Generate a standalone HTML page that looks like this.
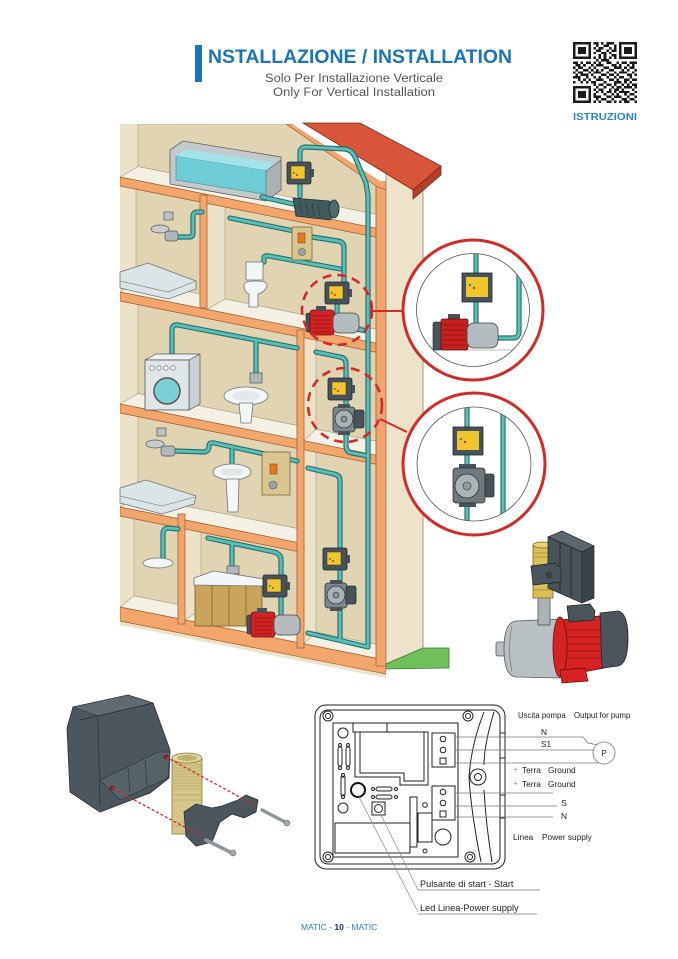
<!DOCTYPE html>
<html><head><meta charset="utf-8">
<style>
html,body{margin:0;padding:0;background:#fff;}
svg{display:block;}
.po{fill:none;stroke:#2a6b68;stroke-width:5.2;stroke-linejoin:round;stroke-linecap:round;}
.pi{fill:none;stroke:#55bfb8;stroke-width:3;stroke-linejoin:round;stroke-linecap:round;}
.bk{fill:#e1d4b3;stroke:#a89c84;stroke-width:.6;}
.fl{fill:#f4f0e4;stroke:#a89c84;stroke-width:.6;}
.sl{fill:#f2a66c;stroke:#9c5b2e;stroke-width:.7;}
.wt{fill:#f3f6f6;stroke:#6f7577;stroke-width:.8;}
.wl{fill:none;stroke:#222;stroke-width:1;}
.lt{font-family:"Liberation Sans",Arial,sans-serif;font-size:8.3px;fill:#222;}
</style></head>
<body>
<svg width="678" height="959" viewBox="0 0 678 959" xmlns="http://www.w3.org/2000/svg">
<defs>
  <clipPath id="house"><polygon points="120,124 292,124 380,181 386,181 386,678 120,625"/></clipPath>
  <clipPath id="c1"><circle cx="473" cy="310" r="56.5"/></clipPath>
  <clipPath id="c2"><circle cx="474" cy="464" r="57"/></clipPath>
  <g id="cb">
    <rect x="0" y="0" width="24" height="22" rx="2" fill="#48525a" stroke="#22282c" stroke-width=".8"/>
    <rect x="4" y="4" width="14" height="13" fill="#f1c52e" stroke="#333" stroke-width=".5"/>
    <circle cx="7" cy="11" r="1" fill="#3a8a3a"/><circle cx="10" cy="13" r="1" fill="#c0392b"/>
    <rect x="24" y="7" width="3" height="8" fill="#48525a"/>
  </g>
  <g id="circ">
    <rect x="0" y="3" width="22" height="25" rx="3" fill="#7e888c" stroke="#2a3035" stroke-width=".8"/>
    <rect x="5" y="0" width="12" height="4" fill="#48525a"/>
    <rect x="5" y="27" width="12" height="4" fill="#48525a"/>
    <circle cx="11" cy="15" r="9" fill="#a9b2b5" stroke="#2a3035" stroke-width=".8"/>
    <circle cx="11" cy="15" r="3" fill="#8b9497" stroke="#2a3035" stroke-width=".6"/>
    <rect x="21" y="6" width="10" height="18" rx="2" fill="#48525a" stroke="#2a3035" stroke-width=".8"/>
  </g>
  <g id="rp">
    <rect x="-4" y="5" width="6" height="19" rx="2" fill="#48525a" stroke="#222" stroke-width=".6"/>
    <rect x="0" y="2" width="24" height="25" rx="3" fill="#d42222" stroke="#5a1010" stroke-width=".8"/>
    <path d="M3,8h18M3,12h18M3,16h18M3,20h18M3,24h18" stroke="#8a1515" stroke-width=".8"/>
    <rect x="6" y="-2" width="10" height="5" fill="#48525a"/>
    <rect x="23" y="5" width="26" height="20" rx="6" fill="#b4bcbf" stroke="#444" stroke-width=".8"/>
  </g>
  <g id="pipes">
    <path d="M262,197 L298,205"/>
    <path d="M300,196 L300,153 Q300,147 306,147 L345,149 Q352,150 355,157 L366,183 L368,196 L368,646"/>
    <path d="M176,237 L190,237 Q193,237 193,232 L193,216 Q193,212 198,212 L202,212"/>
    <path d="M230,218 L294,231"/>
    <path d="M312,237 L338,241 Q344,242 344,248 L344,284"/>
    <path d="M264,262 L264,258 Q264,255 269,256 L340,269"/>
    <path d="M337,304 L337,314"/>
    <path d="M356,329 L368,331"/>
    <path d="M172,356 L172,330 Q172,324 178,325 L297,348"/>
    <path d="M256,342 L256,374"/>
    <path d="M316,352 L340,357 Q346,358 346,364 L346,446 Q346,452 352,453 L368,456"/>
    <path d="M176,451 L203,452 Q209,452 209,446 Q209,442 214,443 L297,461"/>
    <path d="M232,450 L232,466"/>
    <path d="M163,559 L163,534 Q163,528 169,528 L178,529"/>
    <path d="M208,538 L274,552 Q281,554 281,560 L281,633"/>
    <path d="M232,543 L232,568"/>
    <path d="M308,468 L334,474 Q340,475 340,481 L340,640"/>
    <path d="M308,633 L368,647"/>
  </g>
</defs>

<!-- ===== HEADER ===== -->
<rect x="195" y="45" width="7" height="37" fill="#1e74b8"/>
<text x="208" y="63" font-family="Liberation Sans, Arial, sans-serif" font-weight="bold" font-size="19" fill="#1e74b8" textLength="304" lengthAdjust="spacingAndGlyphs">NSTALLAZIONE / INSTALLATION</text>
<text x="354" y="82" text-anchor="middle" font-family="Liberation Sans, Arial, sans-serif" font-size="11.5" fill="#555" textLength="178" lengthAdjust="spacingAndGlyphs">Solo Per Installazione Verticale</text>
<text x="354" y="96" text-anchor="middle" font-family="Liberation Sans, Arial, sans-serif" font-size="11.5" fill="#555" textLength="162" lengthAdjust="spacingAndGlyphs">Only For Vertical Installation</text>

<!-- QR -->
<g transform="translate(573,42) scale(2.56,2.44)" fill="#1a1a1a" shape-rendering="crispEdges">
  <path fill-rule="evenodd" d="M0,0h7v7h-7z M1,1v5h5v-5z M2,2h3v3h-3z M18,0h7v7h-7z M19,1v5h5v-5z M20,2h3v3h-3z M0,18h7v7h-7z M1,19v5h5v-5z M2,20h3v3h-3z"/>
  <path d="M8,0h2v1h-2z M11,0h1v1h-1z M13,0h3v1h-3z M9,1h1v1h-1z M12,1h2v1h-2z M16,1h1v1h-1z M8,2h1v1h-1z M10,2h2v1h-2z M14,2h1v1h-1z M16,2h1v1h-1z M9,3h2v1h-2z M13,3h1v1h-1z M15,3h2v1h-2z M8,4h1v1h-1z M11,4h2v1h-2z M14,4h1v1h-1z M10,5h1v1h-1z M12,5h1v1h-1z M15,5h2v1h-2z M8,6h1v1h-1z M10,6h1v1h-1z M12,6h1v1h-1z M14,6h1v1h-1z M16,6h1v1h-1z M9,7h1v1h-1z M11,7h3v1h-3z M0,8h2v1h-2z M3,8h1v1h-1z M5,8h2v1h-2z M8,8h1v1h-1z M10,8h1v1h-1z M13,8h2v1h-2z M17,8h1v1h-1z M19,8h2v1h-2z M22,8h3v1h-3z M1,9h2v1h-2z M4,9h1v1h-1z M7,9h1v1h-1z M9,9h3v1h-3z M15,9h2v1h-2z M18,9h1v1h-1z M21,9h1v1h-1z M23,9h1v1h-1z M0,10h1v1h-1z M2,10h2v1h-2z M6,10h1v1h-1z M8,10h1v1h-1z M12,10h2v1h-2z M16,10h3v1h-3z M20,10h1v1h-1z M22,10h2v1h-2z M1,11h1v1h-1z M4,11h2v1h-2z M7,11h1v1h-1z M9,11h1v1h-1z M11,11h1v1h-1z M14,11h2v1h-2z M19,11h1v1h-1z M21,11h1v1h-1z M24,11h1v1h-1z M0,12h1v1h-1z M2,12h2v1h-2z M6,12h1v1h-1z M8,12h3v1h-3z M13,12h1v1h-1z M16,12h1v1h-1z M18,12h3v1h-3z M23,12h1v1h-1z M1,13h1v1h-1z M3,13h3v1h-3z M7,13h1v1h-1z M11,13h2v1h-2z M14,13h2v1h-2z M17,13h1v1h-1z M21,13h2v1h-2z M24,13h1v1h-1z M0,14h3v1h-3z M5,14h1v1h-1z M8,14h1v1h-1z M10,14h1v1h-1z M13,14h1v1h-1z M16,14h1v1h-1z M18,14h2v1h-2z M22,14h1v1h-1z M2,15h1v1h-1z M4,15h1v1h-1z M6,15h1v1h-1z M9,15h3v1h-3z M14,15h2v1h-2z M17,15h1v1h-1z M20,15h2v1h-2z M23,15h2v1h-2z M0,16h1v1h-1z M3,16h1v1h-1z M5,16h1v1h-1z M7,16h2v1h-2z M12,16h1v1h-1z M16,16h3v1h-3z M20,16h1v1h-1z M22,16h1v1h-1z M8,17h1v1h-1z M10,17h2v1h-2z M13,17h2v1h-2z M16,17h1v1h-1z M19,17h1v1h-1z M21,17h1v1h-1z M23,17h2v1h-2z M9,18h1v1h-1z M12,18h1v1h-1z M15,18h1v1h-1z M17,18h2v1h-2z M20,18h3v1h-3z M24,18h1v1h-1z M8,19h1v1h-1z M10,19h2v1h-2z M14,19h1v1h-1z M16,19h2v1h-2z M19,19h1v1h-1z M23,19h1v1h-1z M9,20h1v1h-1z M11,20h1v1h-1z M13,20h2v1h-2z M16,20h1v1h-1z M18,20h4v1h-4z M24,20h1v1h-1z M8,21h1v1h-1z M12,21h1v1h-1z M15,21h1v1h-1z M17,21h1v1h-1z M20,21h1v1h-1z M22,21h2v1h-2z M8,22h3v1h-3z M13,22h2v1h-2z M16,22h3v1h-3z M21,22h1v1h-1z M24,22h1v1h-1z M9,23h1v1h-1z M11,23h2v1h-2z M15,23h1v1h-1z M19,23h2v1h-2z M22,23h2v1h-2z M8,24h1v1h-1z M10,24h1v1h-1z M13,24h2v1h-2z M16,24h1v1h-1z M18,24h1v1h-1z M20,24h2v1h-2z M24,24h1v1h-1z"/>
</g>
<text x="605" y="120" text-anchor="middle" font-family="Liberation Sans, Arial, sans-serif" font-weight="bold" font-size="10" fill="#2a86c6" textLength="64" lengthAdjust="spacingAndGlyphs">ISTRUZIONI</text>

<!-- ===== HOUSE ===== -->
<polygon points="386,170 423,170 423,648 386,664" fill="#ece3ca" stroke="#8a8478" stroke-width=".8"/>
<polygon points="386,664 423,648 449,648 449,668 386,669" fill="#6fbf5b" stroke="#3f7a35" stroke-width=".8"/>

<g clip-path="url(#house)">
  <rect x="120" y="120" width="270" height="560" fill="#ece2c7"/>
  <polygon class="bk" points="138,124 376,124 376,214.2 138,166.6"/>
  <polygon class="fl" points="120,177 138,166.6 376,214.2 376,228.2"/>
  <polygon class="bk" points="136,189.2 200,202 200,294 136,281.2"/>
  <polygon class="fl" points="120,292 136,281.2 200,294 200,308"/>
  <polygon class="bk" points="225,207 376,237.2 376,329.2 225,299"/>
  <polygon class="fl" points="207,309.4 225,299 376,329.2 376,343.2"/>
  <polygon class="bk" points="138,304.6 297,336.4 297,425.4 138,393.6"/>
  <polygon class="fl" points="120,404 138,393.6 297,425.4 297,439.4"/>
  <polygon class="bk" points="316,340.2 376,352.2 376,441.2 316,429.2"/>
  <polygon class="fl" points="304,440.8 316,429.2 376,441.2 376,455.2"/>
  <polygon class="bk" points="138,416.6 297,448.4 297,528.4 138,496.6"/>
  <polygon class="fl" points="120,507 138,496.6 297,528.4 297,542.4"/>
  <polygon class="bk" points="316,452.2 376,464.2 376,644.2 316,632.2"/>
  <polygon class="fl" points="304,643.8 316,632.2 376,644.2 376,658.2"/>
  <polygon class="bk" points="134,518.8 178,527.6 178,604.6 134,595.8"/>
  <polygon class="fl" points="120,607 134,595.8 178,604.6 178,618.6"/>
  <polygon class="bk" points="201,532.2 297,551.4 297,628.4 201,609.2"/>
  <polygon class="fl" points="185,620 201,609.2 297,628.4 297,642.4"/>
  <polygon class="sl" points="120,177 376,228.2 376,237.2 120,186"/>
  <polygon class="sl" points="120,292 376,343.2 376,352.2 120,301"/>
  <polygon class="sl" points="120,404 376,455.2 376,464.2 120,413"/>
  <polygon class="sl" points="120,507 304,543.8 304,552.8 120,516"/>
  <polygon class="sl" points="120,607 386,660.2 386,674 120,621"/>
  <rect class="sl" x="200" y="195" width="7" height="113"/>
  <rect class="sl" x="297" y="330" width="7" height="318"/>
  <rect class="sl" x="178" y="514" width="7" height="110"/>
  <rect class="sl" x="376" y="176" width="10" height="490"/>
  <polygon class="sl" points="286,124 302,124 386,178 386,190 376,186"/>
</g>

<!-- roof -->
<polygon points="303,123 360,123 441,166 413,190" fill="#d9553a" stroke="#7a2a1a" stroke-width=".8"/>
<polygon points="413,190 441,166 441,175 413,199" fill="#b5402a" stroke="#7a2a1a" stroke-width=".8"/>

<!-- attic tank -->
<polygon points="170,150 183,141 281,157 281,190 266,201 170,184" fill="#c4c9cb" stroke="#5c6264" stroke-width=".8"/>
<polygon points="176,156 270,171 270,195 176,180" fill="#6ecdd6" stroke="#4a8a90" stroke-width=".6"/>
<polygon points="176,156 186,149 276,163 270,171" fill="#a3e2e8"/>
<polygon points="266,171 281,160 281,190 266,201" fill="#aab0b3" stroke="#5c6264" stroke-width=".6"/>

<use href="#pipes" class="po"/>
<use href="#pipes" class="pi"/>

<!-- attic pump -->
<path d="M293,198 L329,201 Q338,206 336,213 L330,220 L296,216 Z" fill="#3f5b5d" stroke="#1f2e30" stroke-width=".8"/>
<path d="M300,202 L302,214 M306,202 L308,215 M312,203 L314,216 M318,203 L320,217" stroke="#2a3d3f" stroke-width=".8"/>
<ellipse cx="334" cy="209" rx="5" ry="9" fill="#4e6a6c" stroke="#1f2e30" stroke-width=".8"/>
<use href="#cb" transform="translate(287,162)"/>

<!-- floor2 left -->
<rect x="164" y="212" width="9" height="8" fill="#b9c2c5" stroke="#555" stroke-width=".7"/>
<ellipse cx="160" cy="229" rx="9" ry="4" fill="#c6ced0" stroke="#555" stroke-width=".7"/>
<rect x="165" y="231" width="13" height="10" rx="3" fill="#aeb8bb" stroke="#555" stroke-width=".7"/>
<polygon points="120,272 148,263 196,281 196,289 168,299 120,288" fill="#dbe4e6" stroke="#6f7577" stroke-width=".8"/>
<polyline points="120,281 168,292 196,281" fill="none" stroke="#6f7577" stroke-width=".6"/>

<!-- floor2 right -->
<rect x="292" y="227" width="20" height="33" fill="#d9c590" stroke="#7d6a3e" stroke-width=".8"/>
<rect x="298" y="233" width="7" height="10" fill="#e07b1f" stroke="#7d3a10" stroke-width=".5"/>
<circle cx="302" cy="252" r="3.5" fill="#9aa3a6" stroke="#555" stroke-width=".6"/>
<rect x="246" y="262" width="17" height="18" class="wt"/>
<path class="wt" d="M244,285 Q244,281 256,281 Q268,281 267,286 Q265,292 258,294 L258,307 L249,307 L249,294 Q244,292 244,285Z"/>
<use href="#cb" transform="translate(325,282)"/>
<use href="#rp" transform="translate(310,308)"/>

<!-- floor3 -->
<polygon points="145,360 156,354 200,354 189,360" fill="#eef2f3" stroke="#555" stroke-width=".7"/>
<polygon points="189,360 200,354 200,404 189,410" fill="#c7d0d3" stroke="#555" stroke-width=".7"/>
<rect x="145" y="360" width="44" height="50" fill="#dfe6e8" stroke="#555" stroke-width=".8"/>
<circle cx="152" cy="368" r="2.2" fill="#fff" stroke="#555" stroke-width=".6"/>
<circle cx="159" cy="368" r="2.2" fill="#fff" stroke="#555" stroke-width=".6"/>
<circle cx="166" cy="368" r="2.2" fill="#fff" stroke="#555" stroke-width=".6"/>
<circle cx="173" cy="368" r="2.2" fill="#fff" stroke="#555" stroke-width=".6"/>
<circle cx="167" cy="391" r="13" fill="#7dcfd6" stroke="#555" stroke-width="1.5"/>
<rect x="250" y="373" width="12" height="10" fill="#aeb8bb" stroke="#555" stroke-width=".7"/>
<ellipse class="wt" cx="246" cy="396" rx="22" ry="9"/>
<ellipse cx="246" cy="396" rx="14" ry="5" fill="#e3e9ea"/>
<path class="wt" d="M239,403 L253,403 L251,423 L241,423 Z"/>

<use href="#cb" transform="translate(328,378)"/>
<use href="#circ" transform="translate(333,404)"/>

<!-- floor4 -->
<rect x="157" y="428" width="9" height="8" fill="#b9c2c5" stroke="#555" stroke-width=".7"/>
<ellipse cx="155" cy="444" rx="9" ry="4" fill="#c6ced0" stroke="#555" stroke-width=".7"/>
<rect x="161" y="446" width="14" height="10" rx="3" fill="#aeb8bb" stroke="#555" stroke-width=".7"/>
<polygon points="120,488 146,480 196,496 194,504 162,514 120,503" fill="#dbe4e6" stroke="#6f7577" stroke-width=".8"/>
<polyline points="120,496 162,506 195,497" fill="none" stroke="#6f7577" stroke-width=".6"/>
<ellipse class="wt" cx="232" cy="472" rx="19" ry="8"/>
<ellipse cx="232" cy="472" rx="12" ry="4" fill="#e3e9ea"/>
<path class="wt" d="M226,479 L239,479 L238,512 L228,512 Z"/>
<rect x="262" y="452" width="28" height="43" fill="#d9c590" stroke="#7d6a3e" stroke-width=".8"/>
<rect x="270" y="464" width="7" height="10" fill="#e07b1f" stroke="#7d3a10" stroke-width=".5"/>
<circle cx="273" cy="485" r="4" fill="#9aa3a6" stroke="#555" stroke-width=".6"/>

<!-- floor5 -->
<ellipse class="wt" cx="158" cy="563" rx="15" ry="5"/>
<rect x="227" y="566" width="12" height="8" fill="#aeb8bb" stroke="#555" stroke-width=".7"/>
<rect x="195" y="584" width="67" height="42" fill="#c9a45c" stroke="#7a5a24" stroke-width=".8"/>
<path d="M212,585v41 M229,585v41 M246,585v41" stroke="#7a5a24" stroke-width=".7"/>
<polygon class="wt" points="194,578 214,571 270,580 262,586 194,585"/>
<use href="#cb" transform="translate(263,575)"/>
<use href="#rp" transform="translate(251,610)"/>

<use href="#cb" transform="translate(323,548)"/>
<use href="#circ" transform="translate(325,580)"/>

<!-- dashed circles & connectors -->
<circle cx="337" cy="310" r="35" fill="none" stroke="#d42a2a" stroke-width="2.6" stroke-dasharray="9 6"/>
<circle cx="345" cy="405" r="37" fill="none" stroke="#d42a2a" stroke-width="2.6" stroke-dasharray="9 6"/>
<line x1="372" y1="311" x2="405" y2="311" stroke="#d42a2a" stroke-width="2"/>
<line x1="372" y1="305" x2="372" y2="317" stroke="#d42a2a" stroke-width="2"/>
<line x1="380" y1="419" x2="407" y2="432" stroke="#d42a2a" stroke-width="2"/>

<!-- INSET CIRCLE 1 -->
<circle cx="473" cy="310" r="70" fill="#fff" stroke="#d42a2a" stroke-width="3"/>
<g clip-path="url(#c1)">
  <line x1="420" y1="350" x2="530" y2="350" stroke="#bbb" stroke-width="1"/>
  <path d="M476,245 L476,323" class="po"/><path d="M476,245 L476,323" class="pi"/>
  <path d="M497,338 L513,338 Q519,338 519,331 L519,255" class="po"/><path d="M497,338 L513,338 Q519,338 519,331 L519,255" class="pi"/>
  <rect x="462" y="273" width="30" height="29" fill="#48525a" stroke="#22282c" stroke-width=".8"/>
  <rect x="466" y="277" width="22" height="20" fill="#f1c52e"/>
  <circle cx="470" cy="285" r="1.2" fill="#3a8a3a"/><circle cx="474" cy="288" r="1.2" fill="#c0392b"/>
  <rect x="433" y="322" width="9" height="28" rx="2" fill="#48525a" stroke="#222" stroke-width=".6"/>
  <rect x="448" y="314" width="12" height="7" fill="#48525a"/>
  <rect x="441" y="319" width="27" height="31" rx="2" fill="#c81f1f" stroke="#5a1010" stroke-width=".8"/>
  <path d="M443,325h23M443,330h23M443,335h23M443,340h23M443,345h23" stroke="#8a1515" stroke-width=".8"/>
  <rect x="467" y="323" width="31" height="25" rx="7" fill="#b4bcbf" stroke="#444" stroke-width=".8"/>
</g>
<circle cx="473" cy="310" r="56.5" fill="none" stroke="#555" stroke-width=".8"/>

<!-- INSET CIRCLE 2 -->
<circle cx="474" cy="464" r="71" fill="#fff" stroke="#d42a2a" stroke-width="3"/>
<g clip-path="url(#c2)">
  <path d="M467,400 L467,530" class="po"/><path d="M467,400 L467,530" class="pi"/>
  <path d="M503,405 L503,525" class="po"/><path d="M503,405 L503,525" class="pi"/>
  <rect x="453" y="427" width="30" height="28" fill="#48525a" stroke="#22282c" stroke-width=".8"/>
  <rect x="457" y="431" width="22" height="19" fill="#f1c52e"/>
  <circle cx="461" cy="439" r="1.2" fill="#3a8a3a"/><circle cx="465" cy="442" r="1.2" fill="#c0392b"/>
  <rect x="459" y="464" width="17" height="5" fill="#48525a"/>
  <rect x="459" y="502" width="17" height="5" fill="#48525a"/>
  <rect x="453" y="468" width="32" height="35" rx="3" fill="#6f797d" stroke="#2a3035" stroke-width=".8"/>
  <circle cx="467" cy="486" r="12" fill="#aab3b6" stroke="#2a3035" stroke-width=".8"/>
  <circle cx="467" cy="486" r="4" fill="#929b9e" stroke="#2a3035" stroke-width=".6"/>
  <rect x="485" y="474" width="9" height="23" rx="2" fill="#48525a" stroke="#2a3035" stroke-width=".8"/>
</g>
<circle cx="474" cy="464" r="57" fill="none" stroke="#555" stroke-width=".8"/>

<!-- PUMP ASSEMBLY -->
<rect x="496" y="642" width="11" height="14" rx="2" fill="#b8c0c3" stroke="#555" stroke-width=".8"/>
<path d="M516,621 L562,619 L562,678 L516,677 Q504,676 504,649 Q504,622 516,621 Z" fill="#b8c0c3" stroke="#555" stroke-width=".8"/>
<path d="M512,626 Q507,649 512,672" fill="none" stroke="#777" stroke-width=".7"/>
<path d="M560,620 L600,616 L604,668 L562,676 Z" fill="#d62222" stroke="#6a1010" stroke-width=".8"/>
<path d="M566,630h34M566,637h35M566,644h35M566,651h36M566,658h36" stroke="#8a1515" stroke-width=".8"/>
<ellipse cx="560" cy="647" rx="7" ry="30" fill="#d62222" stroke="#6a1010" stroke-width=".8"/>
<polygon points="560,670 585,668 588,681 562,683" fill="#d62222" stroke="#6a1010" stroke-width=".7"/>
<path d="M600,613 L618,611 Q628,613 628,638 Q628,664 618,666 L602,668 Z" fill="#4a545b" stroke="#222" stroke-width=".8"/>
<polygon points="567,606 590,604 595,611 594,620 569,622" fill="#4a545b" stroke="#222" stroke-width=".7"/>
<rect x="538" y="595" width="12" height="30" fill="#aab3b6" stroke="#555" stroke-width=".8"/>
<rect x="533" y="545" width="20" height="53" fill="#d9bf58" stroke="#7a6520" stroke-width=".8"/>
<ellipse cx="543" cy="545" rx="10" ry="3" fill="#e8d27a" stroke="#7a6520" stroke-width=".7"/>
<path d="M533,553h20M533,557h20M533,590h20" stroke="#a88c30" stroke-width=".7"/>
<polygon points="548,537 562,531 594,546 582,552" fill="#5c666d" stroke="#222" stroke-width=".7"/>
<polygon points="548,537 582,552 582,603 548,588" fill="#48525a" stroke="#222" stroke-width=".7"/>
<polygon points="582,552 594,546 594,598 582,603" fill="#3a4349" stroke="#222" stroke-width=".7"/>
<path d="M560,542 L560,593 M571,547 L571,598" stroke="#2c3338" stroke-width="1.2"/>
<polygon points="531,566 555,563 561,568 561,582 533,585" fill="#4a545b" stroke="#222" stroke-width=".7"/>
<circle cx="549" cy="575" r="3" fill="#3a4349" stroke="#222" stroke-width=".5"/>

<!-- EXPLODED DEVICE -->
<polygon points="67,728 73,707 128,695 153,703 170,750 169,778 150,793 100,812 70,792" fill="#4b565e" stroke="#2a3136" stroke-width=".8"/>
<polygon points="73,707 128,695 153,703 98,716" fill="#5f6a72" stroke="#2a3136" stroke-width=".6"/>
<polyline points="80,720 98,716 100,806" fill="none" stroke="#2a3136" stroke-width=".7"/>
<polyline points="98,716 153,703" fill="none" stroke="#2a3136" stroke-width=".7"/>
<polygon points="100,780 158,752 170,752 168,778 120,800" fill="#56626a" stroke="#2a3136" stroke-width=".6"/>
<path d="M128,768 L130,792 M145,760 L147,786" stroke="#2a3136" stroke-width=".6"/>
<circle cx="166" cy="757" r="2.5" fill="#7a2020"/>
<circle cx="112" cy="788" r="2.5" fill="#7a2020"/>
<rect x="172" y="758" width="30" height="76" fill="#d6c68c" stroke="#8a7a40" stroke-width=".8"/>
<path d="M172,765h30M172,768h30M172,771h30M172,774h30M172,777h30M172,780h30M172,783h30M172,786h30M172,789h30M172,795h30M172,800h30M172,822h30M172,826h30" stroke="#a99850" stroke-width=".6"/>
<ellipse cx="187" cy="758" rx="15" ry="5" fill="#e3d7a4" stroke="#8a7a40" stroke-width=".8"/>
<ellipse cx="187" cy="758" rx="10" ry="3" fill="#bfae6e"/>
<polygon points="184,812 196,804 212,808 222,806 238,800 246,795 258,800 256,812 244,818 232,814 220,822 212,842 196,846 186,836" fill="#4b565e" stroke="#2a3136" stroke-width=".8"/>
<line x1="206" y1="840" x2="232" y2="853" stroke="#8e979b" stroke-width="3.5" stroke-linecap="round"/>
<circle cx="233" cy="853" r="3" fill="#a2aaad" stroke="#555" stroke-width=".5"/>
<line x1="262" y1="810" x2="285" y2="822" stroke="#8e979b" stroke-width="3.5" stroke-linecap="round"/>
<circle cx="287" cy="823" r="3" fill="#a2aaad" stroke="#555" stroke-width=".5"/>
<line x1="166" y1="757" x2="258" y2="807" stroke="#c8302a" stroke-width="1.3" stroke-dasharray="3 2"/>
<line x1="112" y1="788" x2="205" y2="838" stroke="#c8302a" stroke-width="1.3" stroke-dasharray="3 2"/>

<!-- WIRING DIAGRAM -->
<rect x="315" y="705" width="190" height="164" rx="11" class="wl" stroke-width="1.2"/>
<rect x="320" y="710" width="180" height="154" rx="8" class="wl" stroke-width=".8"/>
<circle cx="328" cy="716" r="5" class="wl"/><circle cx="328" cy="716" r="2.5" class="wl"/>
<circle cx="468" cy="716" r="5" class="wl"/><circle cx="468" cy="716" r="2.5" class="wl"/>
<circle cx="328" cy="857" r="5" class="wl"/><circle cx="328" cy="857" r="2.5" class="wl"/>
<circle cx="470" cy="857" r="5" class="wl"/><circle cx="470" cy="857" r="2.5" class="wl"/>
<path class="wl" d="M484,712 Q471,745 469,777 Q471,812 481,862"/>
<path class="wl" d="M494,712 Q484,745 484,765 M484,790 Q486,825 492,862"/>
<circle cx="478" cy="777" r="8" class="wl" stroke-width="1.2"/><circle cx="478" cy="777" r="3.5" class="wl"/>
<path class="wl" d="M500,733 h5 M500,758 h5 M500,795 h5 M500,818 h5"/>
<rect x="333" y="723" width="125" height="134" class="wl"/>
<rect x="353" y="723" width="34" height="9" class="wl"/>
<path class="wl" d="M355,732 L428,732 L428,785 L400,785 L400,777 L355,777 Z"/>
<path class="wl" d="M360,732 L360,773 L404,773 L404,781 L424,781 L424,732"/>
<rect x="432" y="733" width="23" height="34" class="wl"/>
<circle cx="443" cy="739" r="2.8" class="wl"/><circle cx="443" cy="750" r="2.8" class="wl"/><rect x="440" y="758" width="6" height="6" class="wl"/>
<rect x="432" y="786" width="23" height="34" class="wl"/>
<circle cx="443" cy="792" r="2.8" class="wl"/><circle cx="443" cy="803" r="2.8" class="wl"/><rect x="440" y="811" width="6" height="6" class="wl"/>
<circle cx="343" cy="733" r="5" class="wl"/>
<circle cx="340" cy="745" r="1.5" class="wl"/><circle cx="348" cy="745" r="1.5" class="wl"/>
<rect x="338" y="747" width="4" height="19" rx="2" class="wl"/><rect x="346" y="747" width="4" height="19" rx="2" class="wl"/>
<circle cx="340" cy="768" r="1.5" class="wl"/><circle cx="348" cy="768" r="1.5" class="wl"/>
<circle cx="343" cy="775" r="1.5" class="wl"/>
<rect x="341" y="777" width="4" height="18" class="wl"/>
<circle cx="343" cy="797" r="1.5" class="wl"/>
<circle cx="343" cy="808" r="5" class="wl"/>
<circle cx="358" cy="790" r="7" fill="none" stroke="#111" stroke-width="2"/>
<circle cx="373" cy="789" r="1.5" class="wl"/><rect x="376" y="787" width="16" height="4" rx="2" class="wl"/><circle cx="396" cy="789" r="1.5" class="wl"/>
<circle cx="373" cy="797" r="1.5" class="wl"/><rect x="376" y="795" width="16" height="4" rx="2" class="wl"/><circle cx="396" cy="797" r="1.5" class="wl"/>
<rect x="372" y="802" width="13" height="13" class="wl"/><circle cx="378.5" cy="808.5" r="4" class="wl"/>
<rect x="335" y="823" width="75" height="30" class="wl" stroke-width="1.2"/>
<rect x="410" y="797" width="7" height="50" class="wl"/>
<rect x="418" y="813" width="14" height="29" class="wl"/>
<circle cx="425" cy="805" r="2.3" class="wl"/>
<circle cx="425" cy="851" r="2" class="wl"/>
<circle cx="443" cy="837" r="8" class="wl"/>
<polyline points="455,737 583,737 588,743 598,745" fill="none" stroke="#777" stroke-width=".8"/>
<line x1="455" y1="750" x2="597" y2="750" stroke="#777" stroke-width=".8"/>
<line x1="455" y1="763" x2="599" y2="763" stroke="#777" stroke-width=".8"/>
<circle cx="604" cy="753" r="11" fill="#fff" stroke="#777" stroke-width=".8"/>
<text x="604" y="756" text-anchor="middle" class="lt">P</text>
<line x1="455" y1="793" x2="553" y2="793" stroke="#777" stroke-width=".8"/>
<line x1="455" y1="806" x2="557" y2="806" stroke="#777" stroke-width=".8"/>
<line x1="455" y1="817" x2="553" y2="817" stroke="#777" stroke-width=".8"/>
<text x="518" y="718" class="lt" style="font-size:7.8px">Uscita pompa</text>
<text x="574" y="718" class="lt" style="font-size:7.8px">Output for pump</text>
<text x="544" y="735" text-anchor="middle" class="lt">N</text>
<text x="546" y="747" text-anchor="middle" class="lt">S1</text>
<text x="513" y="772" class="lt" style="fill:#999">+</text>
<text x="522" y="773" class="lt">Terra</text><text x="548" y="773" class="lt">Ground</text>
<text x="513" y="786" class="lt" style="fill:#999">+</text>
<text x="522" y="787" class="lt">Terra</text><text x="548" y="787" class="lt">Ground</text>
<text x="564" y="806" text-anchor="middle" class="lt">S</text>
<text x="564" y="819" text-anchor="middle" class="lt">N</text>
<text x="513" y="840" class="lt">Linea</text><text x="542" y="840" class="lt">Power supply</text>
<line x1="358" y1="795" x2="418" y2="912" stroke="#888" stroke-width=".7"/>
<line x1="381" y1="815" x2="418" y2="890" stroke="#888" stroke-width=".7"/>
<text x="420" y="887" class="lt" style="font-size:9.2px">Pulsante di start - Start</text>
<line x1="418" y1="890" x2="540" y2="890" stroke="#777" stroke-width=".7"/>
<text x="420" y="911" class="lt" style="font-size:9.2px">Led Linea-Power supply</text>
<line x1="418" y1="914" x2="537" y2="914" stroke="#777" stroke-width=".7"/>

<!-- footer -->
<text x="301" y="930" font-family="Liberation Sans, Arial, sans-serif" font-size="8.5" fill="#2a7fc0"><tspan>MATIC - </tspan><tspan font-weight="bold" fill="#1a3a60">10</tspan><tspan> - MATIC</tspan></text>
</svg>
</body></html>
